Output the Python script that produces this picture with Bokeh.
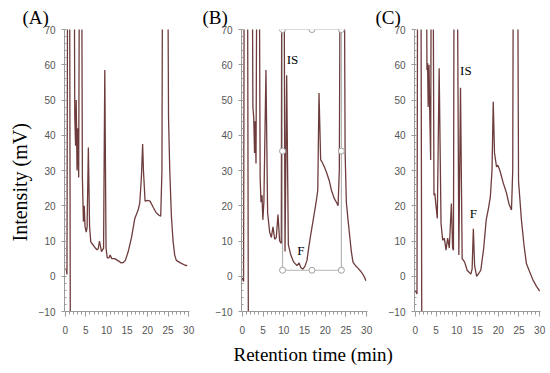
from bokeh.plotting import figure
from bokeh.layouts import row
from bokeh.models import Label, SingleIntervalTicker, Range1d, Title
from bokeh.embed import file_html
from bokeh.resources import INLINE

nan = float("nan")

# ---- data (retention time in min, intensity in mV) ----
time_A = [0, 0.25, 0.4, 0.6, 1.0, 1.25, nan, 2.1, 2.3, 2.5, 2.65, 2.85, 3.05, 3.25, 3.5, 3.9,
          4.15, 4.4, 4.6, 4.8, 5.1, 5.3, 5.6, 5.9, 6.2, 6.8, 7.3, 7.7, 8.0, 8.3, 8.8, 9.3, 9.6,
          9.9, 10.2, 10.6, 10.9, 11.3, 12.0, 13.0, 13.5, 14.1, 14.6, 15.3, 16.1, 16.9, 17.7,
          18.1, 18.5, 18.8, 19.0, 19.4, 20.0, 20.6, 21.4, 22.1, 22.8, 23.2, 23.5, 23.7, 24.8,
          25.1, 25.4, 25.8, 26.2, 26.6, 27.0, 28.0, 29.0, 29.4, 29.6]
int_A = [2, 2, 0.5, 120, 120, -40, nan, 120, 45, 37, 50, 30, 42, 28, 120, 120,
         28, 15.5, 20, 14, 12.5, 14, 36.5, 14, 9.7, 8.8, 8, 7.5, 7.8, 10, 7, 8, 58.5,
         8, 5.2, 5.2, 6, 5, 5, 4.3, 3.8, 3.9, 4.5, 7, 11, 16.4, 18.8,
         20.7, 28, 37.5, 30, 21.3, 21.5, 21.3, 19.5, 18, 17.3, 17, 30, 120, 120,
         45, 30, 17, 10, 6, 4.5, 3.8, 3.2, 3, 3.2]

time_B = [0, 0.3, 0.5, 1.2, 1.5, nan, 2.3, 2.55, 2.75, 2.95, 3.1, 3.3, 3.6, 4.0, 4.3, 4.5,
          4.75, 4.95, 5.2, 5.7, 6.1, 6.6, 7.0, 7.4, 7.8, 8.2, 8.6, 9.0, 9.4, 9.55, 10.0, 10.3,
          10.7, 11.1, 11.7, 12.4, 13.2, 13.7, 14.1, 14.6, 15.1, 15.6, 16.0, 16.4, 17.2, 17.8,
          18.2, 18.5, 18.9, 19.2, 19.8, 20.3, 21.0, 21.5, 22.2, 22.7, 23.1, 23.4, 23.7, 24.5,
          24.8, 25.1, 25.5, 25.9, 26.3, 26.7, 27.3, 27.9, 28.5, 29.0, 29.5, 29.8]
int_B = [-0.5, -1.5, 120, 120, -40, nan, 120, 48, 45, 35, 44, 32, 120, 120, 28, 21,
         23, 16, 21, 58.5, 18, 12.5, 11, 14, 10.5, 11, 17.5, 10, 9.3, 120, 120, 7,
         57, 9, 6, 4, 3, 3.8, 2.5, 2, 2.8, 4.5, 8, 11, 16.7, 21,
         24.4, 52, 33, 32.5, 31, 29.5, 27, 24.4, 22, 21, 20, 30, 120, 120,
         35, 21, 16, 11.5, 7, 4, 3, 2.3, 1.5, 0.7, -0.3, -1.3]

time_C = [0, 0.4, 0.6, 1.3, 1.6, nan, 2.6, 2.8, 2.95, 3.1, 3.3, 3.5, 3.7, 3.9, 4.2, 4.5,
          4.7, 4.9, 5.3, 5.75, 6.2, 6.6, 7.0, 7.4, 7.8, 8.2, 8.7, 9.0, 9.2, 9.4, 10.0, 10.5,
          10.9, 11.3, 11.9, 12.5, 13.4, 13.7, 14.0, 14.3, 14.8, 15.3, 15.8, 16.5, 17.1, 17.6,
          18.1, 18.5, 18.8, 19.1, 19.6, 19.9, 20.4, 21.2, 22.0, 22.6, 23.2, 23.5, 23.7, 24.6,
          24.9, 25.6, 26.2, 26.8, 27.5, 28.4, 29.2, 30.0]
int_C = [-4, -5, 120, 120, -40, nan, 120, 58.5, 60.5, 48, 60, 45, 33, 120, 120, 23,
         23.5, 21, 16.4, 59, 15, 10.2, 10.8, 7.4, 10.8, 8, 20.6, 8, 7.4, 120, 120, 6,
         53.5, 5, 4, 1.7, 0.6, 2, 13.5, 3, 0, 0.8, 1.7, 8, 16, 19,
         22.5, 30, 49.5, 35, 31, 31.5, 30, 26.5, 23.6, 20.5, 18.8, 30, 120, 120,
         27, 16, 9, 3.6, 1.5, -1.1, -2.8, -4.2]

panel_names = ["(A)", "(B)", "(C)"]
y_ticks_step = 10
x_ticks_step = 5

# selection box drawn over panel B (time left/mid/right, intensity bottom/mid/top)
sel_t = [9.7, 16.8, 23.9]
sel_v = [1.7, 35.5, 70.0]

LINE = "#6e3c3c"
AXIS = "#9a9a9a"
TICKTXT = "#555555"
SERIF = "Liberation Serif"


def make_panel(t, y, name, width, bl, br, name_offset, **kw):
    p = figure(width=width, height=372, output_backend="svg", toolbar_location=None,
               x_range=Range1d(-0.2, 30.2), y_range=Range1d(-10, 70),
               min_border_left=bl, min_border_right=br, min_border_top=29,
               min_border_bottom=61, **kw)
    p.outline_line_color = None
    p.xgrid.visible = False
    p.ygrid.visible = False
    p.background_fill_color = "white"
    p.border_fill_color = None
    p.line(t, y, line_color=LINE, line_width=1.3)

    ya = p.yaxis[0]
    ya.ticker = SingleIntervalTicker(interval=y_ticks_step, num_minor_ticks=5)
    ya.axis_line_color = AXIS
    ya.major_tick_line_color = AXIS
    ya.minor_tick_line_color = AXIS
    ya.major_tick_in = 0
    ya.major_tick_out = 3
    ya.minor_tick_in = 2
    ya.minor_tick_out = 0
    ya.major_label_text_font = "Liberation Sans"
    ya.major_label_text_font_size = "10px"
    ya.major_label_text_color = TICKTXT
    ya.major_label_standoff = 6

    xa = p.xaxis[0]
    xa.ticker = SingleIntervalTicker(interval=x_ticks_step, num_minor_ticks=5)
    xa.axis_line_color = AXIS
    xa.major_tick_line_color = AXIS
    xa.minor_tick_line_color = AXIS
    xa.major_tick_in = 0
    xa.major_tick_out = 5
    xa.minor_tick_in = 0
    xa.minor_tick_out = 3
    xa.major_label_text_font = "Liberation Sans"
    xa.major_label_text_font_size = "10px"
    xa.major_label_text_color = TICKTXT
    xa.major_label_standoff = 9

    p.title.text = name
    p.title.align = "left"
    p.title.offset = name_offset
    p.title.standoff = 4
    p.title.text_font = SERIF
    p.title.text_font_size = "19px"
    p.title.text_font_style = "normal"
    p.title.text_color = "black"
    return p


pA = make_panel(time_A, int_A, panel_names[0], 200, 64, 11, -42)
pB = make_panel(time_B, int_B, panel_names[1], 196, 41, 29, -39)
pC = make_panel(time_C, int_C, panel_names[2], 175, 41, 8, -39, margin=(0, 0, 0, -23))

# axis titles
pA.add_layout(Title(text="Intensity (mV)", align="left", offset=70, standoff=10,
                    text_font=SERIF, text_font_size="20px", text_font_style="normal",
                    text_color="black"), "left")
pB.add_layout(Title(text="Retention time (min)", align="left", offset=-8, standoff=10,
                    text_font=SERIF, text_font_size="19px", text_font_style="normal",
                    text_color="black"), "below")

# peak annotations
for p, x, y, s in [(pB, 12.1, 61.5, "IS"), (pB, 14.1, 7.4, "F"),
                   (pC, 12.2, 58.3, "IS"), (pC, 14.0, 17.8, "F")]:
    p.add_layout(Label(x=x, y=y, text=s, text_font=SERIF, text_font_size="13px",
                       text_align="center", text_baseline="middle", text_color="black"))

# selection box on panel B
pB.quad(left=sel_t[0], right=sel_t[2], bottom=sel_v[0], top=sel_v[2],
        fill_color=None, line_color="#b5b5b5", line_width=1.2)
hx = [sel_t[0], sel_t[1], sel_t[2], sel_t[0], sel_t[2], sel_t[0], sel_t[1], sel_t[2]]
hy = [sel_v[2], sel_v[2], sel_v[2], sel_v[1], sel_v[1], sel_v[0], sel_v[0], sel_v[0]]
pB.scatter(hx, hy, size=6, marker="circle", fill_color="white", line_color="#a0a0a0",
           line_width=1)

layout = row(pA, pB, pC)
open("out.html", "w").write(file_html(layout, INLINE))
